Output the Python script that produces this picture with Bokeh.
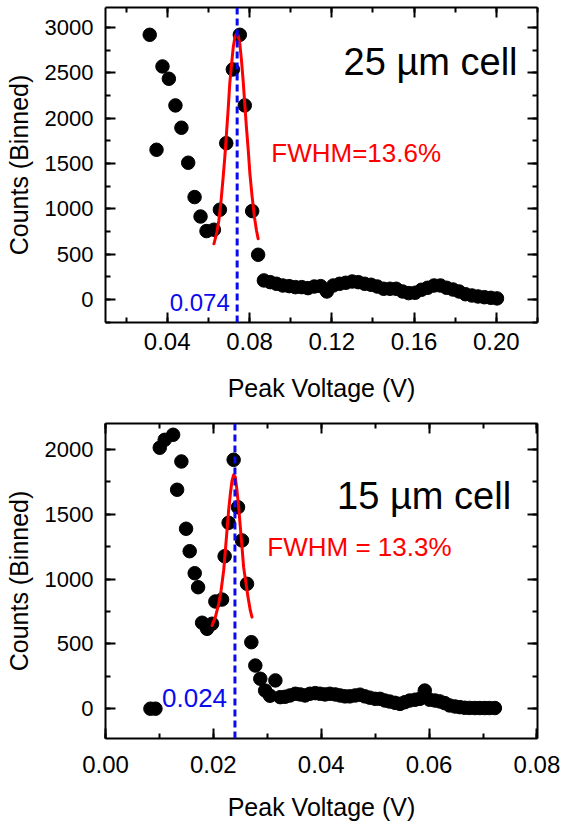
from bokeh.plotting import figure
from bokeh.models import (LinearAxis, SingleIntervalTicker, NumeralTickFormatter,
                          CustomJSTickFormatter, Span, Label, Range1d)
from bokeh.layouts import column
from bokeh.embed import file_html
from bokeh.resources import INLINE

FONT = "Liberation Sans"

# ---------------- data: 25 um cell (top) ----------------
top_x = [0.0315, 0.0348, 0.0377, 0.0408, 0.0440, 0.0469, 0.0502, 0.0533, 0.0562, 0.0591,
         0.0627, 0.0656, 0.0687, 0.0719, 0.0753, 0.0777, 0.0813, 0.0842, 0.0870,
         0.0901, 0.0931, 0.0962, 0.0993, 0.1023, 0.1054, 0.1084, 0.1115, 0.1146, 0.1176,
         0.1207, 0.1238, 0.1268, 0.1299, 0.1329, 0.1360, 0.1391, 0.1421, 0.1452, 0.1483,
         0.1513, 0.1544, 0.1574, 0.1605, 0.1636, 0.1666, 0.1697, 0.1728, 0.1758, 0.1789,
         0.1819, 0.1850, 0.1881, 0.1911, 0.1942, 0.1973, 0.2003]
top_y = [2919, 1651, 2570, 2434, 2140, 1894, 1508, 1129, 915, 754,
         769, 990, 1724, 2537, 2919, 2140, 975, 493, 210,
         191, 173, 154, 147, 136, 136, 125, 143, 147, 88,
         154, 173, 184, 198, 191, 173, 162, 143, 118, 118,
         118, 88, 70, 74, 107, 129, 154, 154, 129, 110,
         88, 58, 44, 33, 25, 18, 12]
fit_top_x = [0.0627, 0.0640, 0.0651, 0.0662, 0.0672, 0.0680, 0.0688, 0.0697, 0.0704, 0.0713,
             0.0721, 0.0729, 0.0737, 0.0745, 0.0753, 0.0761, 0.0769, 0.0777, 0.0785, 0.0794,
             0.0802, 0.0813, 0.0824, 0.0834, 0.0842]
fit_top_y = [614, 725, 871, 1092, 1349, 1569, 1827, 2121, 2379, 2599,
             2783, 2893, 2930, 2912, 2820, 2636, 2415, 2158, 1900, 1643,
             1386, 1128, 908, 761, 669]
peak_top = 0.074

# ---------------- data: 15 um cell (bottom) ----------------
bot_x = [0.00833, 0.00926, 0.01006, 0.01098, 0.01254, 0.01328, 0.01407, 0.01494, 0.01561, 0.01654,
         0.01717, 0.01791, 0.01883, 0.01976, 0.02037, 0.02161, 0.02209, 0.02283, 0.02376, 0.02457,
         0.02531, 0.02624, 0.02704, 0.02778, 0.0287,
         0.0296, 0.0305, 0.0315, 0.0324, 0.0333, 0.0342, 0.0352, 0.0361, 0.0370, 0.0379,
         0.0389, 0.0398, 0.0407, 0.0416, 0.0426, 0.0435, 0.0444, 0.0453, 0.0463, 0.0472,
         0.0481, 0.0490, 0.0500, 0.0509, 0.0518, 0.0527, 0.0537, 0.0546, 0.0555, 0.0564,
         0.0574, 0.0583, 0.0592, 0.0601, 0.0611, 0.0620, 0.0629, 0.0638, 0.0648, 0.0657,
         0.0666, 0.0675, 0.0685, 0.0694, 0.0703, 0.0712, 0.0722]
bot_y = [0, 0, 2013, 2074, 2113, 1689, 1907, 1388, 1215, 1045,
         937, 663, 616, 655, 827, 842, 1176, 1434, 1920, 1554,
         1298, 963, 513, 333, 231,
         140, 100, 218, 89, 92, 102, 115, 110, 102, 115,
         120, 115, 110, 115, 110, 102, 95, 95, 102, 108,
         95, 85, 76, 76, 63, 55, 45, 37, 50, 63,
         69, 76, 140, 69, 63, 56, 43, 25, 17, 12,
         7, 6, 5, 5, 5, 5, 5]
fit_bot_x = [0.01976, 0.02037, 0.02099, 0.02143, 0.02191, 0.02222, 0.02253, 0.02283, 0.02315, 0.02346,
             0.02376, 0.02407, 0.02438, 0.02469, 0.02500, 0.02531, 0.02561, 0.02606, 0.02643, 0.02685,
             0.02716]
fit_bot_y = [642, 706, 809, 912, 1066, 1220, 1375, 1529, 1658, 1760,
             1804, 1786, 1683, 1555, 1400, 1246, 1092, 963, 860, 758,
             706]
peak_bot = 0.024


def style_axis(ax, show_labels, title=None, tick_fs="22px", title_fs="24px",
               label_standoff=10, title_standoff=10):
    ax.axis_line_width = 2
    ax.axis_line_color = "black"
    ax.major_tick_line_width = 2
    ax.minor_tick_line_width = 2
    ax.major_tick_line_color = "black"
    ax.minor_tick_line_color = "black"
    ax.major_tick_in = 10
    ax.major_tick_out = 0
    ax.minor_tick_in = 5
    ax.minor_tick_out = 0
    ax.major_label_text_font = FONT
    ax.axis_label_text_font = FONT
    ax.axis_label_text_font_style = "normal"
    ax.major_label_text_color = "black"
    ax.axis_label_text_color = "black"
    if show_labels:
        ax.major_label_text_font_size = tick_fs
        ax.major_label_standoff = label_standoff
        ax.axis_label = title
        ax.axis_label_text_font_size = title_fs
        ax.axis_label_standoff = title_standoff
    else:
        ax.formatter = CustomJSTickFormatter(code="return ''")
        ax.major_label_standoff = 0
        ax.axis_label = None


def make_panel(height, top, bottom, xr, yr, x_int, xs, ys, fx, fy, peak,
               cell_text, cell_xy, fwhm_text, fwhm_xy, peak_text, peak_xy, peak_fs,
               xlab_standoff, xtitle_standoff):
    p = figure(width=566, height=height, x_range=Range1d(*xr), y_range=Range1d(*yr),
               output_backend="svg", toolbar_location=None,
               x_axis_location=None, y_axis_location=None,
               min_border_left=105, min_border_right=29,
               min_border_top=top, min_border_bottom=bottom)
    p.grid.visible = False
    p.outline_line_color = None
    p.background_fill_color = "white"
    p.border_fill_color = "white"

    for loc in ["below", "above"]:
        ax = LinearAxis(ticker=SingleIntervalTicker(interval=x_int, num_minor_ticks=2),
                        formatter=NumeralTickFormatter(format="0.00"))
        style_axis(ax, loc == "below", "Peak Voltage (V)", tick_fs="24px", title_fs="25px",
                   label_standoff=xlab_standoff, title_standoff=xtitle_standoff)
        p.add_layout(ax, loc)
    for loc in ["left", "right"]:
        ax = LinearAxis(ticker=SingleIntervalTicker(interval=500, num_minor_ticks=2),
                        formatter=NumeralTickFormatter(format="0"))
        style_axis(ax, loc == "left", "Counts (Binned)", tick_fs="22px", title_fs="25px",
                   label_standoff=12, title_standoff=9)
        p.add_layout(ax, loc)

    p.scatter(xs, ys, size=13.5, color="black", line_color="black")
    p.line(fx, fy, line_color="red", line_width=3, line_join="round", line_cap="round")
    p.add_layout(Span(location=peak, dimension="height", line_color="#0a0aee",
                      line_width=3, line_dash="7 4"))

    p.add_layout(Label(x=cell_xy[0], y=cell_xy[1], text=cell_text, text_align="right",
                       text_baseline="alphabetic", text_font=FONT, text_font_size="38px",
                       text_color="black"))
    p.add_layout(Label(x=fwhm_xy[0], y=fwhm_xy[1], text=fwhm_text, text_align="left",
                       text_baseline="alphabetic", text_font=FONT, text_font_size="26px",
                       text_color="#ff0000"))
    p.add_layout(Label(x=peak_xy[0], y=peak_xy[1], text=peak_text, text_align="right",
                       text_baseline="alphabetic", text_font=FONT, text_font_size=peak_fs,
                       text_color="#0a0aee"))
    return p


p1 = make_panel(418, 7, 96, (0.01, 0.22), (-254, 3220), 0.04,
                top_x, top_y, fit_top_x, fit_top_y, peak_top,
                "25 µm cell", (0.2103, 2617), "FWHM=13.6%", (0.0906, 1610),
                "0.074", (0.0704, -30), "24px", 10, 21)
p2 = make_panel(414, 5, 94, (0.0, 0.0801), (-230, 2200), 0.02,
                bot_x, bot_y, fit_bot_x, fit_bot_y, peak_bot,
                "15 µm cell", (0.0752, 1637), "FWHM = 13.3%", (0.0300, 1244),
                "0.024", (0.02254, 84), "26px", 17, 17)

layout = column(p1, p2, spacing=0)
open("out.html", "w").write(file_html(layout, INLINE))
